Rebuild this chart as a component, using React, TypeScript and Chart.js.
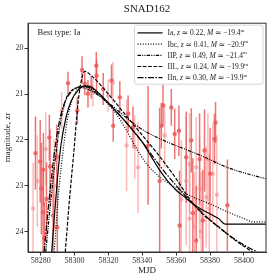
import { useEffect, useRef } from "react";
import { Chart, registerables } from "chart.js";

Chart.register(...registerables);

const FONT = "'Liberation Serif', 'DejaVu Serif', serif";

const TITLE = "SNAD162";
const X_LABEL = "MJD";
const Y_LABEL = "magnitude, zr";
const BEST_TYPE = "Best type: Ia";
const X_TICKS = [58280, 58300, 58320, 58340, 58360, 58380, 58400];
const Y_TICKS = [20, 21, 22, 23, 24];

// Observations (darker group)
const DARK_MJD = [58276.9, 58279.7, 58281.6, 58285.1, 58285.5, 58289.5, 58281.4, 58282.2, 58283.4, 58287.3, 58289.8, 58280.4, 58296.1, 58301.6, 58304.4, 58306.0, 58307.9, 58309.8, 58312.8, 58313.0, 58316.9, 58321.8, 58322.8, 58326.7, 58331.6, 58334.5, 58343.4, 58350.2, 58352.2, 58351.2, 58357.1, 58359.1, 58361.6, 58362.0, 58365.9, 58368.9, 58369.8, 58371.8, 58373.8, 58375.7, 58376.7, 58380.0, 58383.2, 58382.6, 58390.2];
const DARK_MAG = [22.29, 22.47, 22.65, 21.95, 22.58, 22.37, 23.58, 24.15, 23.29, 23.65, 23.91, 23.06, 20.76, 21.36, 20.47, 20.77, 20.99, 20.85, 20.38, 20.6, 20.89, 20.7, 21.69, 21.07, 21.43, 21.72, 22.12, 22.9, 21.25, 21.69, 21.29, 21.87, 21.8, 23.87, 22.38, 22.01, 23.6, 24.2, 22.42, 23.76, 22.23, 22.74, 21.62, 21.98, 23.43];
const DARK_ERR = [0.8, 0.9, 0.8, 0.5, 0.8, 0.7, 0.9, 0.8, 0.8, 1.0, 0.9, 1.0, 0.25, 0.3, 0.3, 0.25, 0.3, 0.25, 0.3, 0.35, 0.35, 0.35, 0.35, 0.35, 0.4, 0.45, 1.3, 1.6, 0.45, 0.5, 0.4, 0.55, 0.55, 1.2, 1.0, 0.7, 1.2, 1.2, 1.0, 1.1, 0.9, 1.0, 0.45, 0.55, 1.0];

// Observations (lighter group)
const LIGHT_MJD = [58275.5, 58278.0, 58283.0, 58288.0, 58292.4, 58310.8, 58319.8, 58322.6, 58330.7, 58335.5, 58337.5, 58353.2, 58363.0, 58365.9, 58367.9, 58367.9, 58370.8, 58371.8, 58373.8, 58374.7, 58377.7, 58378.7, 58379.5, 58381.6, 58384.0];
const LIGHT_MAG = [23.5, 22.9, 22.2, 23.0, 21.36, 20.97, 21.03, 20.75, 22.12, 22.16, 22.6, 21.9, 23.3, 22.9, 22.52, 23.72, 23.9, 22.6, 23.06, 24.0, 23.25, 22.42, 23.5, 22.74, 23.2];
const LIGHT_ERR = [1.0, 1.0, 0.8, 1.0, 0.4, 0.3, 0.35, 0.45, 1.0, 0.7, 1.0, 0.7, 1.3, 1.4, 1.1, 1.2, 1.2, 1.1, 1.1, 1.3, 1.1, 1.0, 1.2, 1.1, 1.3];

// Model curves
const IA_MJD = [58286.5, 58288, 58290, 58292, 58295, 58298, 58302, 58306, 58310, 58315, 58320, 58325, 58330, 58335, 58340, 58345, 58350, 58355, 58360, 58365, 58370, 58375, 58380, 58385, 58389, 58413];
const IA_MAG = [24.45, 23.7, 22.8, 22.1, 21.5, 21.15, 20.92, 20.82, 20.85, 21.0, 21.2, 21.4, 21.6, 21.82, 22.05, 22.35, 22.65, 22.9, 23.1, 23.25, 23.4, 23.52, 23.62, 23.72, 23.84, 23.84];
const IBC_MJD = [58288, 58290, 58293, 58296, 58300, 58304, 58308, 58312, 58318, 58324, 58330, 58336, 58342, 58350, 58360, 58370, 58380, 58390, 58400, 58405, 58413];
const IBC_MAG = [24.45, 23.4, 22.3, 21.5, 21.0, 20.85, 20.85, 20.92, 21.15, 21.4, 21.75, 22.15, 22.5, 22.8, 23.05, 23.25, 23.4, 23.57, 23.72, 23.79, 23.79];
const IIP_MJD = [58283, 58286, 58289, 58292, 58295, 58299, 58303, 58308, 58315, 58322, 58330, 58337, 58344, 58355, 58365, 58375, 58381, 58390, 58400, 58413];
const IIP_MAG = [24.45, 23.3, 22.3, 21.55, 21.1, 20.9, 20.85, 20.9, 21.05, 21.25, 21.5, 21.7, 21.86, 22.05, 22.2, 22.35, 22.45, 22.6, 22.72, 22.85];
const IIL_MJD = [58294.5, 58297, 58299.7, 58302, 58304, 58306, 58310, 58320, 58330, 58340, 58350, 58360, 58368, 58375, 58385, 58395, 58405];
const IIL_MAG = [24.45, 23.3, 22.2, 21.2, 20.7, 20.5, 20.6, 21.0, 21.45, 21.9, 22.35, 22.85, 23.3, 23.6, 23.9, 24.2, 24.45];
const IIN_MJD = [58282, 58285, 58288, 58291, 58294, 58298, 58302, 58306, 58312, 58320, 58330, 58340, 58350, 58360, 58370, 58380, 58390, 58400, 58408];
const IIN_MAG = [24.45, 23.3, 22.3, 21.6, 21.2, 20.95, 20.85, 20.83, 20.95, 21.2, 21.6, 22.05, 22.55, 23.0, 23.4, 23.75, 24.05, 24.3, 24.45];

const MODEL_TYPES = ["Ia", "Ibc", "IIP", "IIL", "IIn"];
const MODEL_Z = ["0.22", "0.41", "0.49", "0.24", "0.30"];
const MODEL_M = ["\u221219.4", "\u221220.9", "\u221221.4", "\u221219.9", "\u221219.9"];
const MODEL_DASH = [[], [1, 1.6], [3.5, 1.2, 1, 1.2, 1, 1.2], [3.7, 1.6], [6, 1.5, 1.5, 1.5]];

const DARK_COLOR = "rgba(236, 92, 92, 0.85)";
const LIGHT_COLOR = "rgba(245, 140, 140, 0.6)";

const zip = (xs: number[], ys: number[]) => xs.map((x, i) => ({ x, y: ys[i] }));

const errorBarsPlugin = {
  id: "errorBars",
  beforeDatasetsDraw(chart: any) {
    const { ctx, chartArea, scales } = chart;
    const xs = scales.x;
    const ys = scales.y;
    ctx.save();
    ctx.beginPath();
    ctx.rect(chartArea.left, chartArea.top, chartArea.right - chartArea.left, chartArea.bottom - chartArea.top);
    ctx.clip();
    chart.data.datasets.forEach((ds: any) => {
      if (!ds.errors) return;
      ctx.strokeStyle = ds.backgroundColor;
      ctx.lineWidth = 1.5;
      ds.data.forEach((p: any, i: number) => {
        const px = xs.getPixelForValue(p.x);
        ctx.beginPath();
        ctx.moveTo(px, ys.getPixelForValue(p.y - ds.errors[i]));
        ctx.lineTo(px, ys.getPixelForValue(p.y + ds.errors[i]));
        ctx.stroke();
      });
    });
    ctx.restore();
  },
};

function drawRich(ctx: CanvasRenderingContext2D, segs: any[], x: number, y: number, size: number) {
  let cx = x;
  for (const s of segs) {
    const sz = s.sup ? size * 0.65 : size;
    ctx.font = `${s.it ? "italic " : ""}${sz}px ${FONT}`;
    ctx.fillText(s.t, cx, s.sup ? y - size * 0.35 : y);
    cx += ctx.measureText(s.t).width;
  }
}

const overlayPlugin = {
  id: "overlay",
  afterDatasetsDraw(chart: any) {
    const { ctx, chartArea } = chart;
    const { left, top, right, bottom } = chartArea;
    ctx.save();
    ctx.strokeStyle = "#333";
    ctx.lineWidth = 1;
    ctx.strokeRect(left, top, right - left, bottom - top);

    ctx.fillStyle = "#222";
    ctx.textBaseline = "middle";
    ctx.textAlign = "left";
    ctx.font = `8.5px ${FONT}`;
    ctx.fillText(BEST_TYPE, left + 9.5, top + 10);

    const bw = 128.5;
    const bh = 59;
    const bx = right - 3 - bw;
    const by = top + 2;
    ctx.fillStyle = "rgba(255,255,255,0.85)";
    ctx.strokeStyle = "#cccccc";
    ctx.lineWidth = 0.8;
    ctx.beginPath();
    (ctx as any).roundRect(bx, by, bw, bh, 2);
    ctx.fill();
    ctx.stroke();

    for (let i = 0; i < MODEL_TYPES.length; i++) {
      const ry = by + 7.7 + i * 11.2;
      ctx.strokeStyle = "#000";
      ctx.lineWidth = 1.2;
      ctx.setLineDash(MODEL_DASH[i]);
      ctx.beginPath();
      ctx.moveTo(bx + 3, ry);
      ctx.lineTo(bx + 28, ry);
      ctx.stroke();
      ctx.setLineDash([]);
      ctx.fillStyle = "#222";
      drawRich(
        ctx,
        [
          { t: `${MODEL_TYPES[i]}, ` },
          { t: "z", it: true },
          { t: ` \u2243 ${MODEL_Z[i]}, ` },
          { t: "M", it: true },
          { t: ` \u2243 ${MODEL_M[i]}` },
          { t: "m", sup: true },
        ],
        bx + 33,
        ry + 0.5,
        7.5
      );
    }
    ctx.restore();
  },
};

export default function App() {
  const ref = useRef<HTMLCanvasElement | null>(null);

  useEffect(() => {
    if (!ref.current) return;
    const tickFont = { family: FONT, size: 8 };
    const modelData = [
      zip(IA_MJD, IA_MAG),
      zip(IBC_MJD, IBC_MAG),
      zip(IIP_MJD, IIP_MAG),
      zip(IIL_MJD, IIL_MAG),
      zip(IIN_MJD, IIN_MAG),
    ];
    const chart = new Chart(ref.current, {
      type: "scatter",
      data: {
        datasets: [
          ...modelData.map((d, i) => ({
            label: MODEL_TYPES[i],
            data: d,
            showLine: true,
            borderColor: "#000",
            borderWidth: 1.2,
            borderDash: MODEL_DASH[i],
            pointRadius: 0,
            cubicInterpolationMode: "monotone",
            order: 0,
          })),
          {
            label: "light",
            data: zip(LIGHT_MJD, LIGHT_MAG),
            errors: LIGHT_ERR,
            backgroundColor: LIGHT_COLOR,
            borderWidth: 0,
            pointRadius: 2.2,
            order: 10,
          } as any,
          {
            label: "dark",
            data: zip(DARK_MJD, DARK_MAG),
            errors: DARK_ERR,
            backgroundColor: DARK_COLOR,
            borderWidth: 0,
            pointRadius: 2.2,
            order: 9,
          } as any,
        ],
      },
      options: {
        responsive: false,
        animation: false,
        layout: { padding: { left: 0, right: 14, top: 0, bottom: 0 } },
        plugins: {
          legend: { display: false },
          tooltip: { enabled: false },
          title: {
            display: true,
            text: TITLE,
            fullSize: false,
            color: "#222",
            font: { family: FONT, size: 11, weight: "normal" },
            padding: { top: 3, bottom: 7 },
          },
        },
        scales: {
          x: {
            type: "linear",
            min: 58272.5,
            max: 58413,
            afterBuildTicks: (s: any) => {
              s.ticks = X_TICKS.map((v) => ({ value: v }));
            },
            afterFit: (s: any) => {
              s.height = 28;
            },
            ticks: {
              font: tickFont,
              color: "#333",
              padding: 1,
              maxRotation: 0,
              autoSkip: false,
              callback: (v: any) => String(v),
            },
            grid: { drawOnChartArea: false, drawTicks: true, tickLength: 3.5, color: "#333" },
            border: { display: true, color: "#333", width: 1 },
            title: {
              display: true,
              text: X_LABEL,
              color: "#222",
              font: { family: FONT, size: 9 },
              padding: { top: 0, bottom: 4 },
            },
          },
          y: {
            type: "linear",
            reverse: true,
            min: 19.45,
            max: 24.45,
            afterBuildTicks: (s: any) => {
              s.ticks = Y_TICKS.map((v) => ({ value: v }));
            },
            afterFit: (s: any) => {
              s.width = 28;
            },
            ticks: {
              font: tickFont,
              color: "#333",
              padding: 1,
              callback: (v: any) => String(v),
            },
            grid: { drawOnChartArea: false, drawTicks: true, tickLength: 3.5, color: "#333" },
            border: { display: true, color: "#333", width: 1 },
            title: {
              display: true,
              text: Y_LABEL,
              color: "#222",
              font: { family: FONT, size: 9 },
              padding: { top: 2, bottom: 0 },
            },
          },
        },
      } as any,
      plugins: [errorBarsPlugin, overlayPlugin],
    });
    return () => chart.destroy();
  }, []);

  return (
    <div style={{ position: "fixed", left: 0, top: 0, width: 280, height: 280, background: "#fff" }}>
      <canvas ref={ref} width={280} height={280} style={{ display: "block" }} />
    </div>
  );
}
